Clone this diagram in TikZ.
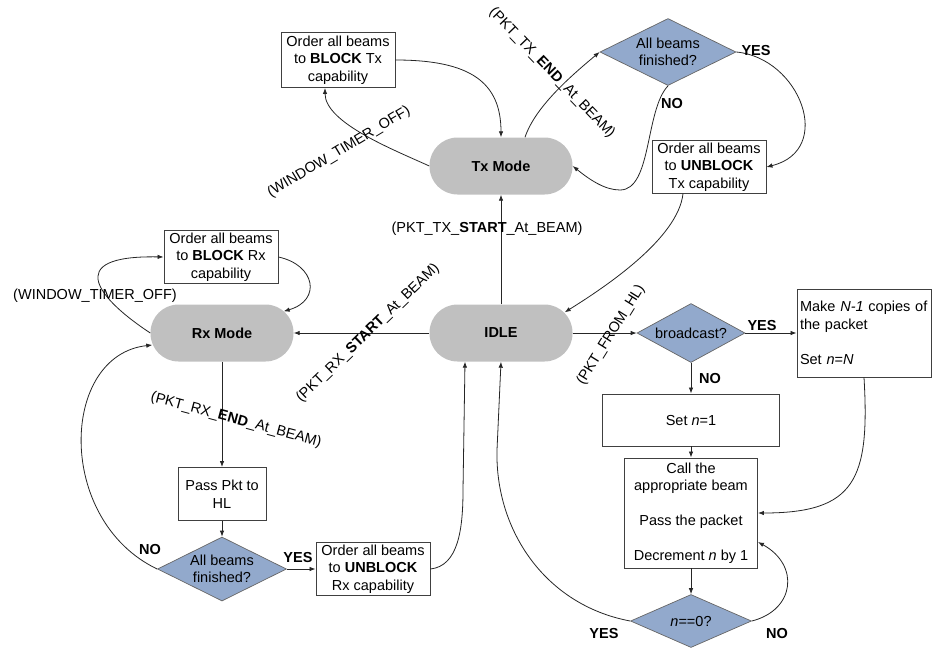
\documentclass[tikz,border=0pt]{standalone}
\usepackage{fontspec}
\setmainfont{Liberation Sans}
\usetikzlibrary{shapes.geometric,arrows.meta}
\definecolor{stgray}{RGB}{192,192,192}
\definecolor{dblue}{RGB}{146,169,204}
\newcommand{\dfont}{\fontsize{14.5}{17.5}\selectfont}
\begin{document}
\begin{tikzpicture}[x=1pt,y=-1pt,
  font=\dfont,
  state/.style={fill=stgray, rounded corners=28pt, minimum width=143pt, minimum height=57pt, inner sep=0pt, font=\dfont\bfseries},
  box/.style={draw=black!75, line width=0.9pt, fill=white, align=center, inner sep=2pt},
  dec/.style={diamond, draw=black!60, line width=0.7pt, fill=dblue, inner sep=0pt},
  dtext/.style={align=center, font=\dfont},
  conn/.style={draw=black!85, line width=0.8pt, -{Latex[length=6pt,width=4.5pt]}},
  yn/.style={font=\dfont\bfseries},
  evt/.style={font=\dfont, inner sep=0pt}]
\useasboundingbox (0,0) rectangle (932,649);

% states
\node[state] (txmode) at (501,166) {Tx Mode};
\node[state] (idle) at (501,333) {IDLE};
\node[state] (rxmode) at (222,333) {Rx Mode};

% boxes
\node[box, minimum width=114pt, minimum height=55pt] (blocktx) at (338,60) {Order all beams\\to \textbf{BLOCK} Tx\\capability};
\node[box, minimum width=114pt, minimum height=52pt] (unblocktx) at (709,167) {Order all beams\\to \textbf{UNBLOCK}\\Tx capability};
\node[box, minimum width=114pt, minimum height=52pt] (blockrx) at (221,257) {Order all beams\\to \textbf{BLOCK} Rx\\capability};
\node[box, minimum width=88pt, minimum height=53pt] (passpkt) at (222,494) {Pass Pkt to\\HL};
\node[box, minimum width=114pt, minimum height=52pt] (unblockrx) at (373,569) {Order all beams\\to \textbf{UNBLOCK}\\Rx capability};
\node[box, minimum width=134pt, minimum height=88pt, text width=128pt, align=left] (make) at (864,333) {Make \textit{N-1} copies of\\the packet\\[17.5pt]Set \textit{n}=\textit{N}};
\node[box, minimum width=177pt, minimum height=52pt] (setn) at (691,420) {Set \textit{n}=1};
\node[box, minimum width=133pt, minimum height=110pt] (call) at (691,513) {Call the\\appropriate beam\\[17.5pt]Pass the packet\\[17.5pt]Decrement \textit{n} by 1};

% decisions
\node[dec, minimum width=136pt, minimum height=67pt, label={[dtext]center:All beams\\finished?}] (txd) at (668,52) {};
\node[dec, minimum width=129pt, minimum height=64pt, label={[dtext]center:All beams\\finished?}] (rxd) at (222,569) {};
\node[dec, minimum width=108pt, minimum height=59pt, label={[dtext]center:broadcast?}] (bcast) at (691,333) {};
\node[dec, minimum width=121pt, minimum height=53pt, label={[dtext]center:\textit{n}==0?}] (n0) at (691,621) {};

% connectors
\draw[conn] (txmode.west) .. controls +(-35,-16) and +(0,35) .. ([xshift=-13pt]blocktx.south);
\draw[conn] (blocktx.east) .. controls +(75,0) and +(0,-55) .. (txmode.north);
\draw[conn] ([xshift=24pt]txmode.north) .. controls +(10,-30) and +(-30,25) .. (txd.west);
\draw[conn] (txd.south) .. controls (645,110) and (652,190) .. (620,190) .. controls (605,190) and (590,180) .. (txmode.east);
\draw[conn] (txd.east) .. controls (800,58) and (835,150) .. (unblocktx.east);
\draw[conn] ([xshift=-26pt]unblocktx.south) .. controls +(-5,45) and +(40,-25) .. ([xshift=-8pt,yshift=-8pt]idle.north east);
\draw[conn] (idle.north) -- (txmode.south);
\draw[conn] (idle.west) -- (rxmode.east);
\draw[conn] (rxmode.west) .. controls (100,300) and (60,255) .. (blockrx.west);
\draw[conn] (blockrx.east) .. controls +(37,8) and +(38,-11) .. ([xshift=-10pt,yshift=-7pt]rxmode.north east);
\draw[conn] (rxmode.south) -- (passpkt.north);
\draw[conn] (passpkt.south) -- (rxd.north);
\draw[conn] (rxd.west) .. controls (55,520) and (60,355) .. ([xshift=2pt,yshift=-12pt]rxmode.west);
\draw[conn] (rxd.east) -- (unblockrx.west);
\draw[conn] (unblockrx.east) .. controls (458,566) and (463,530) .. (463,490) -- ([xshift=-36pt]idle.south);
\draw[conn] (n0.west) .. controls (545,605) and (495,530) .. (497,450) -- (idle.south);
\draw[conn] (idle.east) -- (bcast.west);
\draw[conn] (bcast.east) -- (make.west);
\draw[conn] (bcast.south) -- (setn.north);
\draw[conn] (setn.south) -- (call.north);
\draw[conn] (make.south) .. controls (870,480) and (855,513) .. (call.east);
\draw[conn] (call.south) -- (n0.north);
\draw[conn] (n0.east) .. controls (795,610) and (800,565) .. ([yshift=-29pt]call.east);

% yes / no labels
\node[yn] (yes1) at (756,51) {YES};
\node[yn] (no1) at (672,104) {NO};
\node[yn] (no2) at (150,549) {NO};
\node[yn] (yes2) at (298,557) {YES};
\node[yn] (yes3) at (762,325) {YES};
\node[yn] (no3) at (710,378) {NO};
\node[yn] (yes4) at (604,633) {YES};
\node[yn] (no4) at (777,633) {NO};

% event labels
\node[evt, rotate=31] (ev1) at (339,152) {(WINDOW\_TIMER\_OFF)};
\node[evt, rotate=-46] (ev2) at (552,73) {(PKT\_TX\_\textbf{END}\_At\_BEAM)};
\node[evt] (ev3) at (487,229) {(PKT\_TX\_\textbf{START}\_At\_BEAM)};
\node[evt] (ev4) at (95,296) {(WINDOW\_TIMER\_OFF)};
\node[evt, rotate=44] (ev5) at (368,333) {(PKT\_RX\_\textbf{START}\_At\_BEAM)};
\node[evt, rotate=-15] (ev6) at (236,420) {(PKT\_RX\_\textbf{END}\_At\_BEAM)};
\node[evt, rotate=58] (ev7) at (611,335) {(PKT\_FROM\_HL)};
\end{tikzpicture}
\end{document}
